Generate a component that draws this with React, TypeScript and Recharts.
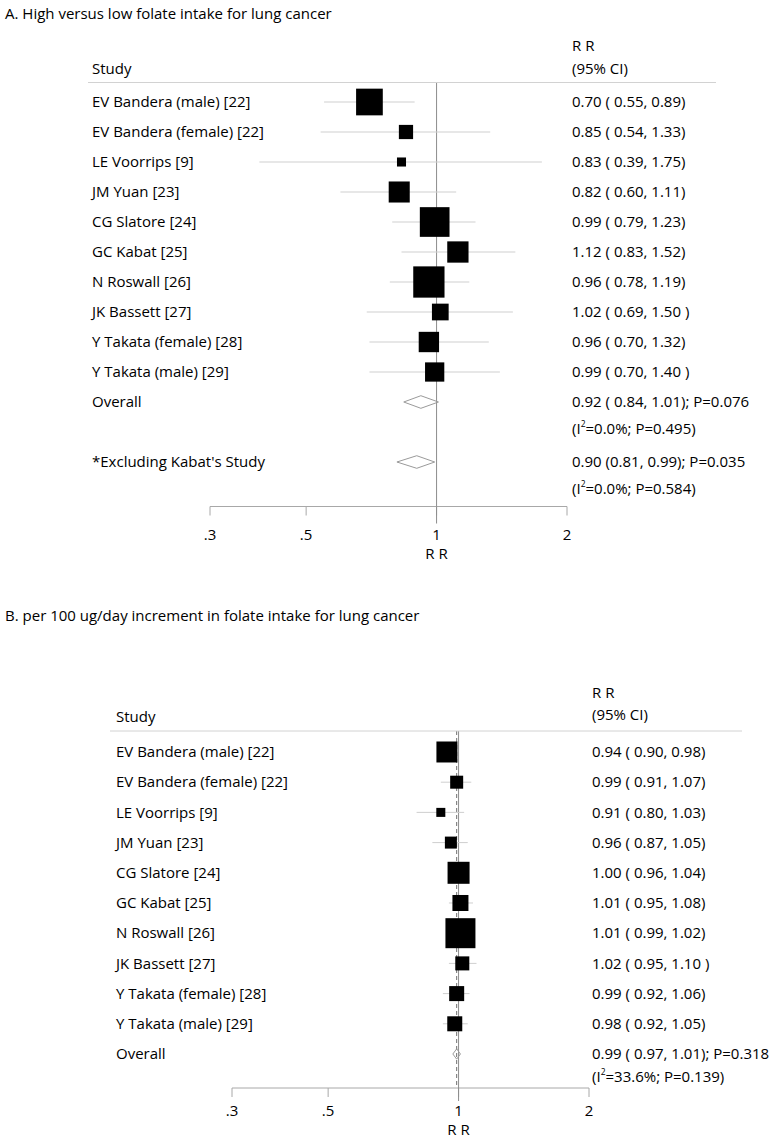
import React from 'react';
import { ScatterChart, Scatter, XAxis, YAxis } from 'recharts';

const FONT = "'Open Sans', 'DejaVu Sans', sans-serif";
const FS = 15;

// ---------------- shared axis ----------------
const axisTicks = [0.3, 0.5, 1, 2];
const axisTickLabels = ['.3', '.5', '1', '2'];
const axisTitle = 'R R';
const colHeadStudy = 'Study';
const colHeadRR = 'R R';
const colHeadCI = '(95% CI)';

// ---------------- Panel A ----------------
const titleA = 'A. High versus low folate intake for lung cancer';
const studiesA = [
  'EV Bandera (male) [22]',
  'EV Bandera (female) [22]',
  'LE Voorrips [9]',
  'JM Yuan [23]',
  'CG Slatore [24]',
  'GC Kabat [25]',
  'N Roswall [26]',
  'JK Bassett [27]',
  'Y Takata (female) [28]',
  'Y Takata (male) [29]',
];
const rrA = [0.7, 0.85, 0.83, 0.82, 0.99, 1.12, 0.96, 1.02, 0.96, 0.99];
const loA = [0.55, 0.54, 0.39, 0.6, 0.79, 0.83, 0.78, 0.69, 0.7, 0.7];
const hiA = [0.89, 1.33, 1.75, 1.11, 1.23, 1.52, 1.19, 1.5, 1.32, 1.4];
const weightA = [14.8, 4.2, 1.7, 9.2, 18.3, 9.4, 20.3, 5.8, 8.6, 7.7];
const ciTextA = [
  '0.70 ( 0.55, 0.89)',
  '0.85 ( 0.54, 1.33)',
  '0.83 ( 0.39, 1.75)',
  '0.82 ( 0.60, 1.11)',
  '0.99 ( 0.79, 1.23)',
  '1.12 ( 0.83, 1.52)',
  '0.96 ( 0.78, 1.19)',
  '1.02 ( 0.69, 1.50 )',
  '0.96 ( 0.70, 1.32)',
  '0.99 ( 0.70, 1.40 )',
];
const sumLabelsA = ['Overall', "*Excluding Kabat's Study"];
const sumRRA = [0.92, 0.9];
const sumLoA = [0.84, 0.81];
const sumHiA = [1.01, 0.99];
const sumTextA = ['0.92 ( 0.84, 1.01); P=0.076', '0.90 (0.81, 0.99); P=0.035'];
const sumI2A = ['0.0%', '0.0%'];
const sumHetPA = ['0.495', '0.584'];

// ---------------- Panel B ----------------
const titleB = 'B. per 100 ug/day increment in folate intake for lung cancer';
const studiesB = [
  'EV Bandera (male) [22]',
  'EV Bandera (female) [22]',
  'LE Voorrips [9]',
  'JM Yuan [23]',
  'CG Slatore [24]',
  'GC Kabat [25]',
  'N Roswall [26]',
  'JK Bassett [27]',
  'Y Takata (female) [28]',
  'Y Takata (male) [29]',
];
const rrB = [0.94, 0.99, 0.91, 0.96, 1.0, 1.01, 1.01, 1.02, 0.99, 0.98];
const loB = [0.9, 0.91, 0.8, 0.87, 0.96, 0.95, 0.99, 0.95, 0.92, 0.92];
const hiB = [0.98, 1.07, 1.03, 1.05, 1.04, 1.08, 1.02, 1.1, 1.06, 1.05];
const weightB = [14.1, 5.4, 2.6, 4.6, 15.5, 8.2, 28.8, 6.3, 7.2, 7.2];
const ciTextB = [
  '0.94 ( 0.90, 0.98)',
  '0.99 ( 0.91, 1.07)',
  '0.91 ( 0.80, 1.03)',
  '0.96 ( 0.87, 1.05)',
  '1.00 ( 0.96, 1.04)',
  '1.01 ( 0.95, 1.08)',
  '1.01 ( 0.99, 1.02)',
  '1.02 ( 0.95, 1.10 )',
  '0.99 ( 0.92, 1.06)',
  '0.98 ( 0.92, 1.05)',
];
const sumLabelsB = ['Overall'];
const sumRRB = [0.99];
const sumLoB = [0.97];
const sumHiB = [1.01];
const sumTextB = ['0.99 ( 0.97, 1.01); P=0.318'];
const sumI2B = ['33.6%'];
const sumHetPB = ['0.139'];

// ---------------- styles ----------------
const CI_COLOR = '#cfcfcf';
const REF_COLOR = '#8c8c8c';
const AXIS_COLOR = '#a8a8a8';
const DIAMOND_COLOR = '#9a9a9a';
const HEAD_LINE = '#d2d2d2';

type PanelData = {
  names: string[]; rr: number[]; lo: number[]; hi: number[]; w: number[]; ci: string[];
  sumNames: string[]; sumRR: number[]; sumLo: number[]; sumHi: number[];
  sumText: string[]; sumI2: string[]; sumP: string[];
};

type Layout = {
  top: number; height: number;
  margin: { top: number; right: number; bottom: number; left: number };
  yDomain: [number, number];
  sumRows: number[];
  nameX: number; ciX: number;
  boxK: number; diamondHalf: number;
  dashed: boolean;
  labelDy: number; titleGap: number; oneExt: number; hetDy: number;
};

const panelA: PanelData = {
  names: studiesA, rr: rrA, lo: loA, hi: hiA, w: weightA, ci: ciTextA,
  sumNames: sumLabelsA, sumRR: sumRRA, sumLo: sumLoA, sumHi: sumHiA,
  sumText: sumTextA, sumI2: sumI2A, sumP: sumHetPA,
};
const panelB: PanelData = {
  names: studiesB, rr: rrB, lo: loB, hi: hiB, w: weightB, ci: ciTextB,
  sumNames: sumLabelsB, sumRR: sumRRB, sumLo: sumLoB, sumHi: sumHiB,
  sumText: sumTextB, sumI2: sumI2B, sumP: sumHetPB,
};

const layoutA: Layout = {
  top: 0, height: 580,
  margin: { top: 82.5, right: 211, bottom: 23.5, left: 209 },
  yDomain: [-0.65, 13.483],
  sumRows: [10, 12],
  nameX: 92, ciX: 572,
  boxK: 6.94, diamondHalf: 0.21,
  dashed: false,
  labelDy: 17, titleGap: 19, oneExt: 6, hetDy: 27,
};
const layoutB: Layout = {
  top: 580, height: 559,
  margin: { top: 151, right: 189, bottom: 1, left: 231 },
  yDomain: [-0.695, 11.126],
  sumRows: [10],
  nameX: 116, ciX: 592,
  boxK: 5.59, diamondHalf: 0.17,
  dashed: true,
  labelDy: 12, titleGap: 18.5, oneExt: 2, hetDy: 23,
};

const Empty = () => <g />;

function ForestPanel({ d, L }: { d: PanelData; L: Layout }) {
  const nameByRow: Record<number, string> = {};
  const ciByRow: Record<number, string> = {};
  const hetByRow: Record<number, [string, string]> = {};
  d.names.forEach((n, i) => { nameByRow[i] = n; ciByRow[i] = d.ci[i]; });
  L.sumRows.forEach((r, j) => {
    nameByRow[r] = d.sumNames[j];
    ciByRow[r] = d.sumText[j];
    hetByRow[r] = [d.sumI2[j], d.sumP[j]];
  });
  const rowTicks = [...d.names.map((_, i) => i), ...L.sumRows];
  const [y0, y1] = L.yDomain;
  const studyPts = d.rr.map((v, i) => ({ x: v, y: i, w: d.w[i] }));

  const txt = { fontFamily: FONT, fontSize: FS, fill: '#000' } as const;

  const renderName = (p: any) => (
    <text x={L.nameX} y={p.y} dy="0.35em" textAnchor="start" {...txt}>
      {nameByRow[p.payload.value]}
    </text>
  );
  const renderCI = (p: any) => {
    const v = p.payload.value;
    const het = hetByRow[v];
    return (
      <g>
        <text x={L.ciX} y={p.y} dy="0.35em" textAnchor="start" {...txt}>{ciByRow[v]}</text>
        {het && (
          <text x={L.ciX} y={p.y + L.hetDy} dy="0.35em" textAnchor="start" {...txt}>
            (I<tspan dy={-7} fontSize={8.5}>2</tspan>
            <tspan dy={7}>{`=${het[0]}; P=${het[1]})`}</tspan>
          </text>
        )}
      </g>
    );
  };
  const renderX = (p: any) => {
    const v = p.payload.value;
    const lab = axisTickLabels[axisTicks.indexOf(v)];
    return (
      <g>
        {v === 1 && (
          <line x1={p.x} x2={p.x} y1={p.y - 11} y2={p.y + L.oneExt} stroke={REF_COLOR} strokeWidth={1} />
        )}
        <text x={p.x} y={p.y + L.labelDy} dy="0.35em" textAnchor="middle" {...txt}>
          {lab}
          {v === 1 && (
            <tspan x={p.x} dy={L.titleGap}>{axisTitle}</tspan>
          )}
        </text>
      </g>
    );
  };
  const renderBox = (p: any) => {
    const s = L.boxK * Math.sqrt(p.payload.w);
    return <rect x={p.cx - s / 2} y={p.cy - s / 2} width={s} height={s} fill="#000" />;
  };

  return (
    <ScatterChart width={779} height={L.height} margin={L.margin}>
      <XAxis
        type="number" dataKey="x" scale="log" domain={[0.3, 2]} allowDataOverflow
        ticks={axisTicks} interval={0} height={50} stroke={AXIS_COLOR}
        tickSize={9} tickLine={{ stroke: AXIS_COLOR }} tick={renderX}
      />
      <YAxis
        yAxisId="l" type="number" dataKey="y" domain={L.yDomain} reversed allowDataOverflow
        ticks={rowTicks} interval={0} width={1} axisLine={false} tickLine={false} tick={renderName}
      />
      <YAxis
        yAxisId="r" orientation="right" type="number" dataKey="y" domain={L.yDomain} reversed allowDataOverflow
        ticks={rowTicks} interval={0} width={1} axisLine={false} tickLine={false} tick={renderCI}
      />
      <Scatter
        yAxisId="l" data={[{ x: 1, y: y0 }, { x: 1, y: y1 }]}
        line={{ stroke: REF_COLOR, strokeWidth: 1 }} fill={REF_COLOR} shape={Empty} isAnimationActive={false}
      />
      {L.dashed && (
        <Scatter
          yAxisId="l" data={[{ x: d.sumRR[0], y: y0 }, { x: d.sumRR[0], y: y1 }]}
          line={{ stroke: '#6e6e6e', strokeWidth: 1, strokeDasharray: '4 3' }} fill="#6e6e6e"
          shape={Empty} isAnimationActive={false}
        />
      )}
      {d.rr.map((_, i) => (
        <Scatter
          key={`ci${i}`} yAxisId="l" data={[{ x: d.lo[i], y: i }, { x: d.hi[i], y: i }]}
          line={{ stroke: CI_COLOR, strokeWidth: 1 }} fill={CI_COLOR} shape={Empty} isAnimationActive={false}
        />
      ))}
      {d.sumRR.map((v, j) => {
        const r = L.sumRows[j];
        const h = L.diamondHalf;
        const pts = [
          { x: d.sumLo[j], y: r },
          { x: v, y: r - h },
          { x: d.sumHi[j], y: r },
          { x: v, y: r + h },
          { x: d.sumLo[j], y: r },
        ];
        return (
          <Scatter
            key={`dm${j}`} yAxisId="l" data={pts}
            line={{ stroke: DIAMOND_COLOR, strokeWidth: 1 }} fill={DIAMOND_COLOR} shape={Empty} isAnimationActive={false}
          />
        );
      })}
      <Scatter yAxisId="l" data={studyPts} shape={renderBox} fill="#000" isAnimationActive={false} />
    </ScatterChart>
  );
}

export default function App() {
  const t = { fontFamily: FONT, fontSize: FS, fill: '#000' } as const;
  return (
    <div style={{ position: 'absolute', left: 0, top: 0, width: 779, height: 1139, background: '#fff', overflow: 'hidden' }}>
      <div style={{ position: 'absolute', left: 0, top: layoutA.top }}>
        <ForestPanel d={panelA} L={layoutA} />
      </div>
      <div style={{ position: 'absolute', left: 0, top: layoutB.top }}>
        <ForestPanel d={panelB} L={layoutB} />
      </div>
      <svg width={779} height={1139} style={{ position: 'absolute', left: 0, top: 0, pointerEvents: 'none' }}>
        <text x={5} y={13} dominantBaseline="central" {...t}>{titleA}</text>
        <text x={92} y={68} dominantBaseline="central" {...t}>{colHeadStudy}</text>
        <text x={572} y={45} dominantBaseline="central" {...t}>{colHeadRR}</text>
        <text x={572} y={68} dominantBaseline="central" {...t}>{colHeadCI}</text>
        <line x1={88} x2={716} y1={82.5} y2={82.5} stroke={HEAD_LINE} strokeWidth={1} />

        <text x={5} y={615} dominantBaseline="central" {...t}>{titleB}</text>
        <text x={116} y={716} dominantBaseline="central" {...t}>{colHeadStudy}</text>
        <text x={592} y={692} dominantBaseline="central" {...t}>{colHeadRR}</text>
        <text x={592} y={714} dominantBaseline="central" {...t}>{colHeadCI}</text>
        <line x1={110} x2={742} y1={731} y2={731} stroke={HEAD_LINE} strokeWidth={1} />
      </svg>
    </div>
  );
}
